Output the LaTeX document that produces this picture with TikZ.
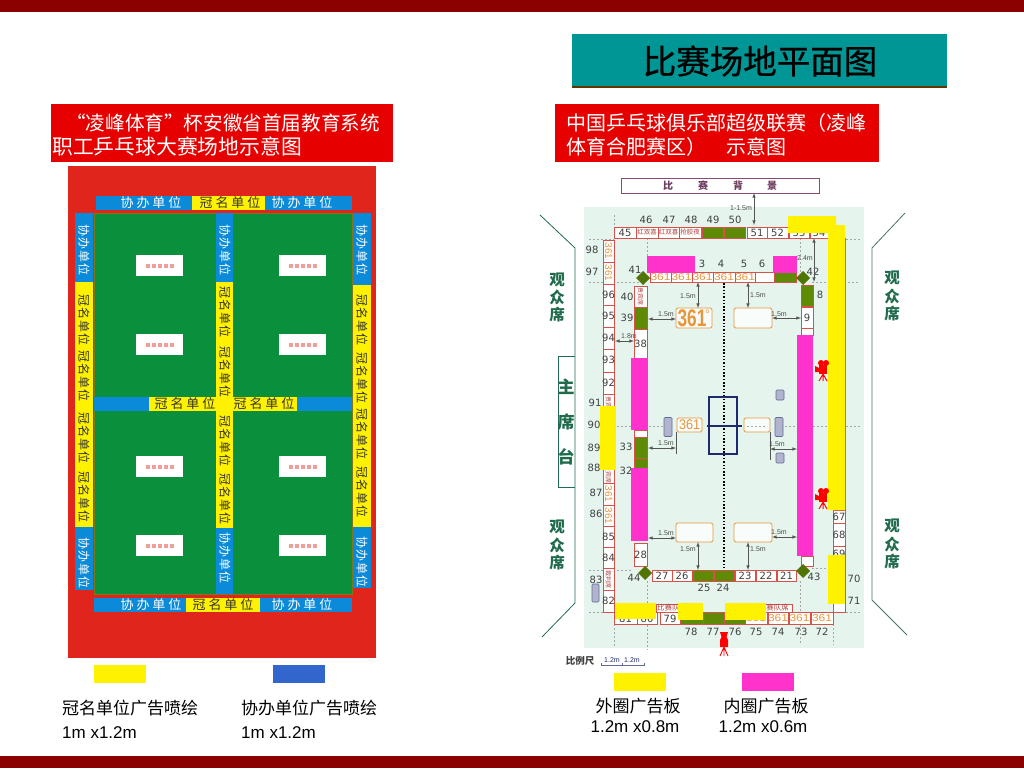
\documentclass[tikz,border=0pt]{standalone}
\usepackage{fontspec}
\setmainfont{Liberation Sans}
\newfontfamily\cjk{Noto Sans CJK SC}
\newfontfamily\cjktitle[FakeBold=0.8]{Noto Sans CJK SC}
\newfontfamily\cjkwide[LetterSpace=22]{Noto Sans CJK SC}
\newfontfamily\cjktall[LetterSpace=6]{Noto Sans CJK SC}
\newfontfamily\numfont{DejaVu Sans}
\newcommand{\pxfont}[1]{\fontsize{#1}{#1}\selectfont}
\definecolor{barred}{HTML}{8B0000}
\definecolor{titleteal}{HTML}{009696}
\definecolor{boxred}{HTML}{E60000}
\definecolor{hallred}{HTML}{E0261C}
\definecolor{courtgreen}{HTML}{0A8F3C}
\definecolor{bandblue}{HTML}{0A8AD8}
\definecolor{legendblue}{HTML}{3366CC}
\definecolor{adpink}{HTML}{FF33CC}
\definecolor{cellred}{HTML}{D8504A}
\definecolor{planbg}{HTML}{E6F4EE}
\definecolor{seatgreen}{HTML}{1F6B4C}
\definecolor{olive}{HTML}{5F8A05}
\definecolor{logo}{HTML}{E8963C}
\definecolor{banner}{HTML}{8A4A78}
\definecolor{tablenavy}{HTML}{1F2A6E}
\definecolor{dimgray}{HTML}{555555}
\usetikzlibrary{positioning}
\tikzset{
  cellbox/.style={draw=cellred, fill=white, line width=0.9pt},
  greencell/.style={draw=cellred, fill=olive, line width=0.9pt},
  numtext/.style={font=\numfont\pxfont{10}, text=black!75, inner sep=0pt},
  logotext/.style={font=\pxfont{10}, text=logo, inner sep=0pt},
  redtext/.style={font=\cjk\pxfont{7}, text=cellred!80!black, inner sep=0pt},
  seattext/.style={font=\cjk\bfseries\pxfont{15.5}, text=seatgreen, inner sep=0pt},
  wideblue/.style={font=\cjkwide\pxfont{13}, text=white, inner sep=0pt},
  wideyellow/.style={font=\cjkwide\pxfont{13}, text=black!80, inner sep=0pt},
  tallblue/.style={font=\cjktall\pxfont{12}, text=white, inner sep=0pt, rotate=-90},
  tallyellow/.style={font=\cjktall\pxfont{12}, text=black!80, inner sep=0pt, rotate=-90},
  headtext/.style={font=\cjk\pxfont{20}, text=white, inner sep=0pt, anchor=west},
  notetext/.style={font=\cjk\pxfont{17}, text=black, inner sep=0pt},
  sizetext/.style={font=\pxfont{17}, text=black, inner sep=0pt},
  dimtext/.style={font=\pxfont{7}, text=black!70, inner sep=0pt},
  dimline/.style={draw=dimgray, line width=0.6pt},
  guide/.style={draw=black!35, line width=1pt, dash pattern=on 1.5pt off 2.5pt},
  logobox/.style={draw=logo, fill=white!70!planbg, rounded corners=1.5pt, line width=0.9pt},
  padbox/.style={draw=tablenavy!70, fill=tablenavy!35, rounded corners=1pt, line width=0.6pt},
}
\newcommand{\camicon}[2]{
  \begin{scope}[shift={(#1,#2)}]
    \fill[red] (-3,-6) rectangle (5,3);
    \fill[red] (-1,-8) circle (3);
    \fill[red] (4,-8) circle (3);
    \fill[red] (-3,-3) -- (-7,-5) -- (-7,1) -- (-3,1) -- cycle;
    \draw[red, line width=1pt] (1,3) -- (-3,10) (1,3) -- (1,10) (1,3) -- (5,10);
  \end{scope}
}
\begin{document}
\begin{tikzpicture}[x=1pt,y=-1pt]
  \useasboundingbox (0,0) rectangle (1024,768);

  % bars and headers
  \fill[barred] (0,0) rectangle (1024,12);
  \fill[barred] (0,756) rectangle (1024,768);
  \fill[black!60!orange] (572,85) rectangle (947,87.5);
  \fill[titleteal] (572,34) rectangle (947,85.5);
  \node[font=\cjktitle\pxfont{33.5}, text=black, inner sep=0pt] (title) at (760,61) {比赛场地平面图};
  \fill[boxred] (51,104) rectangle (393,162);
  \fill[boxred] (555,104) rectangle (879,162);
  \node[headtext, font=\cjk\pxfont{19.6}] (headla) at (66,123) {“凌峰体育”杯安徽省首届教育系统};
  \node[headtext, font=\cjk\pxfont{20.8}] (headlb) at (52,147) {职工乒乓球大赛场地示意图};
  \node[headtext] (headra) at (566,123) {中国乒乓球俱乐部超级联赛（凌峰};
  \node[headtext] (headrb) at (566,147) {体育合肥赛区）\hspace{20pt}示意图};

  % left hall
  \fill[hallred] (68,166) rectangle (376,658);
  \fill[courtgreen] (94,213) rectangle (352,594);
  \draw[black!20!orange!60!courtgreen, line width=0.8pt] (94,213) rectangle (352,594);
  \fill[bandblue] (96,196) rectangle (352,210);
  \fill[yellow] (192,196) rectangle (265,210);
  \fill[bandblue] (94,397) rectangle (352,411);
  \fill[yellow] (149,397) rectangle (297,411);
  \fill[bandblue] (94,598) rectangle (352,612);
  \fill[yellow] (186,598) rectangle (260,612);
  \foreach \xa/\xb/\ya/\yb in {75/93/282/527, 216/233/282/528, 353/371/285/527} {
    \fill[yellow] (\xa,\ya) rectangle (\xb,\yb);
  }
  \foreach \xa/\xb/\ya/\yb in {75/93/213/282, 75/93/527/590, 216/233/213/282, 216/233/528/594, 353/371/213/285, 353/371/527/588} {
    \fill[bandblue] (\xa,\ya) rectangle (\xb,\yb);
  }
  \foreach \x in {136,279} {
    \foreach \y in {255,334,456,535} {
      \fill[white] (\x,\y) rectangle (\x+47,\y+21);
      \foreach \k in {12,18,24,30,36} {
        \fill[hallred!45] (\x+\k-2,\y+9) rectangle (\x+\k+2,\y+12.5);
      }
    }
  }
  \foreach \x/\y in {151/203, 302/203, 151/605, 302/605} {
    \node[wideblue] (hb\x\y) at (\x,\y) {协办单位};
  }
  \foreach \x/\y in {230/203, 185/404, 264/404, 223/605} {
    \node[wideyellow] (hy\x\y) at (\x,\y) {冠名单位};
  }
  \foreach \x/\y in {84/250, 84/563, 225/250, 225/558, 362/250, 362/562} {
    \node[tallblue] (vb\x\y) at (\x,\y) {协办单位};
  }
  \foreach \x/\y in {84/320, 84/376, 84/438, 84/497, 225/312, 225/372, 225/441, 225/499, 362/320, 362/378, 362/434, 362/492} {
    \node[tallyellow] (vy\x\y) at (\x,\y) {冠名单位};
  }

  % left legend
  \fill[yellow] (94,665) rectangle (146,683);
  \fill[legendblue] (273,665) rectangle (325,683);
  \node[notetext, anchor=west] (notea) at (62,708) {冠名单位广告喷绘};
  \node[notetext, anchor=west] (noteb) at (241,708) {协办单位广告喷绘};
  \node[sizetext, anchor=west] (sizea) at (62,733) {1m x1.2m};
  \node[sizetext, anchor=west] (sizeb) at (241,733) {1m x1.2m};

  % right plan, ground and seats
  \fill[planbg] (584,207) rectangle (864,648);
  \draw[banner, line width=1pt, fill=white] (621,178) rectangle (819,193);
  \foreach \x/\t in {668/比, 703/赛, 738/背, 772/景} {
    \node[font=\cjk\bfseries\pxfont{10}, text=banner!80!black, inner sep=0pt] (bg\x) at (\x,186) {\t};
  }
  \draw[seatgreen, line width=0.8pt] (540,215) -- (575,248) -- (575,603) -- (542,637);
  \draw[seatgreen!60!gray, line width=0.8pt] (905,213) -- (872,248) -- (872,600) -- (907,635);
  \draw[seatgreen, line width=0.8pt] (575,356) -- (558,356) -- (558,487) -- (575,487);
  \foreach \x/\ya/\yb/\yc in {557/280/297/314, 892/278/296/313, 557/527/545/562, 892/526/544/561} {
    \node[seattext] (sa\x\ya) at (\x,\ya) {观};
    \node[seattext] (sb\x\ya) at (\x,\yb) {众};
    \node[seattext] (sc\x\ya) at (\x,\yc) {席};
  }
  \foreach \y/\t in {387/主, 422/席, 457/台} {
    \node[font=\cjk\bfseries\pxfont{17}, text=seatgreen, inner sep=0pt] (main\y) at (566,\y) {\t};
  }

  % guides
  \foreach \xa/\ya/\xb/\yb in {589/239/614/239, 589/282/640/282, 589/570/633/570, 589/612/614/612, 846/239/860/239, 812/282/860/282, 812/568/845/568, 846/612/860/612, 846/426/860/426, 617/426/664/426, 785/426/845/426, 614/215/614/227, 647/238/647/272, 800/238/800/272, 647/581/647/650, 614/624/614/648, 800/581/800/645, 833/624/833/645} {
    \draw[guide] (\xa,\ya) -- (\xb,\yb);
  }
  \draw[black, line width=1.5pt, dash pattern=on 1.5pt off 1.8pt] (724,283) -- (724,570);

  % outer ring of cells
  \foreach \xa/\xb/\t in {614/636/45, 747/767/51, 767/788/52, 789/809/53, 810/828/54} {
    \draw[cellbox] (\xa,227) rectangle (\xb,238);
    \node[numtext] (top\t) at ({(\xa+\xb)/2},233) {\t};
  }
  \foreach \xa/\xb/\t in {636/658/红双喜, 658/679/红双喜, 679/701/抢胶夜} {
    \draw[cellbox] (\xa,227) rectangle (\xb,238);
    \node[redtext, font=\cjk\pxfont{6.5}] (tops\xa) at ({(\xa+\xb)/2},232.5) {\t};
  }
  \draw[greencell] (702,227) rectangle (723,238);
  \draw[greencell] (724,227) rectangle (745,238);
  \foreach \n/\x in {46/646, 47/669, 48/691, 49/713, 50/735} {
    \node[numtext] (up\n) at (\x,220) {\n};
  }
  \foreach \ya/\yb in {240/262, 262/284, 284/305, 305/327, 327/349, 349/372, 372/394, 394/416, 416/438, 438/460, 460/483, 483/505, 505/526, 526/547, 547/568, 568/590, 590/612} {
    \draw[cellbox] (603,\ya) rectangle (614,\yb);
  }
  \foreach \n/\y in {96/295, 95/316, 94/338, 93/360, 92/383, 85/537, 84/558, 82/601} {
    \node[numtext] (out\n) at (608.5,\y) {\n};
  }
  \foreach \n/\x/\y in {98/592/250, 97/592/272, 91/595/403, 90/594/425, 89/594/448, 88/594/468, 87/596/493, 86/596/514, 83/596/580} {
    \node[numtext] (out\n) at (\x,\y) {\n};
  }
  \foreach \y in {251,273,494,516} {
    \node[logotext, rotate=-90] (olog\y) at (608.5,\y) {361};
  }
  \foreach \y/\t in {405/贵宾席, 474/贵宾席, 579/裁判席} {
    \node[redtext, rotate=-90, font=\cjk\pxfont{6}] (ored\y) at (608.5,\y) {\t};
  }
  \draw[padbox] (592,584) rectangle (599,602);
  \foreach \ya/\yb/\t in {510/523/67, 523/546/68, 546/568/69, 568/590/70, 590/612/71} {
    \draw[cellbox] (833,\ya) rectangle (845,\yb);
  }
  \foreach \n/\y in {67/517, 68/535, 69/554} {
    \node[numtext] (out\n) at (839,\y) {\n};
  }
  \foreach \n/\y in {70/579, 71/601} {
    \node[numtext] (out\n) at (854,\y) {\n};
  }
  \draw[cellred, line width=0.9pt] (828,238) -- (845,238) -- (845,510);
  \foreach \xa/\xb/\t in {614/637/81, 637/657/80, 660/680/79} {
    \draw[cellbox] (\xa,612) rectangle (\xb,624);
    \node[numtext] (bot\t) at ({(\xa+\xb)/2},619) {\t};
  }
  \draw[greencell] (680,612) rectangle (703,624);
  \draw[greencell] (703,612) rectangle (724,624);
  \draw[greencell] (724,612) rectangle (745,624);
  \foreach \xa/\xb in {745/767, 768/788, 789/810, 811/833} {
    \draw[cellbox] (\xa,612) rectangle (\xb,624);
    \node[logotext, xscale=1.2] (blog\xa) at ({(\xa+\xb)/2},618) {361};
  }
  \draw[cellbox] (656,604) rectangle (678,612);
  \draw[cellbox] (745,604) rectangle (792,612);
  \node[redtext, font=\cjk\pxfont{7.5}, anchor=west] (teama) at (657,608) {比赛队席};
  \node[redtext, font=\cjk\pxfont{7.5}, anchor=east] (teamb) at (789,608) {比赛队席};
  \foreach \n/\x in {78/691, 77/713, 76/735, 75/756, 74/778, 73/801, 72/822} {
    \node[numtext] (low\n) at (\x,632) {\n};
  }

  % inner ring of cells
  \foreach \xa/\xb in {650/671, 671/692, 692/713, 713/735, 735/755} {
    \draw[cellbox] (\xa,272) rectangle (\xb,282);
    \node[logotext, xscale=1.2] (ilog\xa) at ({(\xa+\xb)/2},277.5) {361};
  }
  \draw[cellbox] (755,272) rectangle (774,282);
  \draw[greencell] (774,272) rectangle (796,282);
  \foreach \n/\x/\y in {3/702/264, 4/721/264, 5/744/264, 6/762/264, 41/635/270, 42/813/272, 8/820/295, 40/627/297, 39/627/318, 33/626/447, 32/626/471, 25/704/588, 24/723/588, 44/634/578, 43/814/577} {
    \node[numtext] (inn\n) at (\x,\y) {\n};
  }
  \foreach \ya/\yb/\t in {329/358/38, 543/566/28} {
    \draw[cellbox] (634,\ya) rectangle (647,\yb);
    \node[numtext] (cell\t) at (640.5,{(\ya+\yb)/2}) {\t};
  }
  \draw[cellbox] (634,286) rectangle (647,307);
  \node[redtext, rotate=-90, font=\cjk\pxfont{6}] (ired) at (640.5,296.5) {贵宾席};
  \draw[greencell] (634,307) rectangle (647,329);
  \draw[cellbox] (634,430) rectangle (647,437);
  \draw[greencell] (634,437) rectangle (647,458);
  \draw[greencell] (634,458) rectangle (647,468);
  \foreach \xa/\xb/\t in {652/672/27, 672/692/26, 735/755/23, 756/776/22, 777/796/21} {
    \draw[cellbox] (\xa,570) rectangle (\xb,581);
    \node[numtext] (cell\t) at ({(\xa+\xb)/2},575.5) {\t};
  }
  \draw[greencell] (693,570) rectangle (713,581);
  \draw[greencell] (714,570) rectangle (734,581);
  \draw[greencell] (801,285) rectangle (813,306);
  \draw[cellbox] (801,307) rectangle (813,328);
  \node[numtext] (cell9) at (807,317.5) {9};
  \draw[cellbox] (801,328) rectangle (813,335);
  \draw[cellbox] (801,556) rectangle (813,566);
  \foreach \x/\y in {643/278, 803/278, 645/573, 803/571} {
    \fill[olive!85!black] (\x-7,\y) -- (\x,\y-7) -- (\x+7,\y) -- (\x,\y+7) -- cycle;
  }

  % court
  \foreach \xa/\ya/\xb/\yb in {676/308/712/328, 734/308/772/328, 676/523/713/542, 734/523/772/542, 677/418/702/432, 744/418/770/432} {
    \draw[logobox] (\xa,\ya) rectangle (\xb,\yb);
  }
  \node[font=\bfseries\pxfont{24}, text=logo, inner sep=0pt, xscale=0.72] (logoa) at (692,318.5) {361};
  \node[font=\pxfont{7}, text=logo, inner sep=0pt] (logoc) at (707.5,312) {o};
  \node[font=\pxfont{14}, text=logo, inner sep=0pt, xscale=0.9] (logob) at (689.5,425) {361};
  \draw[guide] (747,426) -- (767,426);
  \draw[tablenavy, line width=1.2pt] (709,397) rectangle (737,454);
  \draw[tablenavy, line width=1.2pt] (707,426) -- (742,426);
  \foreach \x/\y/\h in {668/427/9.5, 779/427/9.5, 780/395/5, 780/458/5} {
    \draw[padbox] (\x-4,\y-\h) rectangle (\x+4,\y+\h);
  }

  % measures
  \foreach \xa/\ya/\xb/\yb in {648/319/676/319, 698/282/698/308, 748/282/748/308, 772/318/801/318, 615/341/634/341, 648/448/676/448, 770/449/797/449, 648/538/676/538, 698/542/698/570, 748/542/748/570, 772/537/797/537, 814/238/814/282, 754/193/754/225} {
    \draw[dimline, <->, >=latex] (\xa,\ya) -- (\xb,\yb);
  }
  \draw[dimline] (676,432) -- (676,454);
  \draw[dimline] (770,432) -- (770,460);
  \foreach \x/\y in {666/314, 688/296, 758/295, 779/314, 666/443, 777/444, 666/533, 688/549, 758/549, 779/532} {
    \node[dimtext] (dim\x\y) at (\x,\y) {1.5m};
  }
  \node[dimtext] (dimb) at (629,336) {1.8m};
  \node[dimtext] (dimc) at (805,258) {2.4m};
  \node[dimtext] (dimd) at (741,208) {1-1.5m};

  % boards over the plan
  \fill[adpink] (647,256) rectangle (695,273);
  \fill[adpink] (773,256) rectangle (797,273);
  \fill[adpink] (631,358) rectangle (648,430);
  \fill[adpink] (631,468) rectangle (648,541);
  \fill[adpink] (797,335) rectangle (813,556);
  \fill[yellow] (788,216) -- (836,216) -- (836,225) -- (845,225) -- (845,510) -- (828,510) -- (828,233) -- (788,233) -- cycle;
  \fill[yellow] (828,555) rectangle (845,604);
  \fill[yellow] (600,406) rectangle (616,470);
  \fill[yellow] (615,603) rectangle (656,619);
  \fill[yellow] (678,603) rectangle (703,620);
  \fill[yellow] (725,603) rectangle (766,620);
  \camicon{822}{371}
  \camicon{822}{499}
  \fill[red] (720,632) -- (728,632) -- (726.5,637) -- (728,640) -- (728,647) -- (720,647) -- (720,640) -- (721.5,637) -- cycle;
  \draw[red, line width=0.9pt] (724,647) -- (720,656) (724,647) -- (724,656) (724,647) -- (728,656);

  % scale and right legend
  \node[font=\cjk\bfseries\pxfont{9.5}, text=black!75, inner sep=0pt] (scale) at (580,661) {比例尺};
  \draw[tablenavy!70, line width=0.5pt] (601,663) -- (601,665) -- (644,665) -- (644,663) (622,663) -- (622,665);
  \node[dimtext, text=tablenavy] (scalea) at (612,660) {1.2m};
  \node[dimtext, text=tablenavy] (scaleb) at (632,660) {1.2m};
  \fill[yellow] (614,673) rectangle (666,691);
  \fill[adpink] (742,673) rectangle (794,691);
  \node[notetext] (notec) at (638,706) {外圈广告板};
  \node[notetext] (noted) at (766,706) {内圈广告板};
  \node[sizetext] (sizec) at (635,727) {1.2m x0.8m};
  \node[sizetext] (sized) at (763,727) {1.2m x0.6m};
\end{tikzpicture}
\end{document}
